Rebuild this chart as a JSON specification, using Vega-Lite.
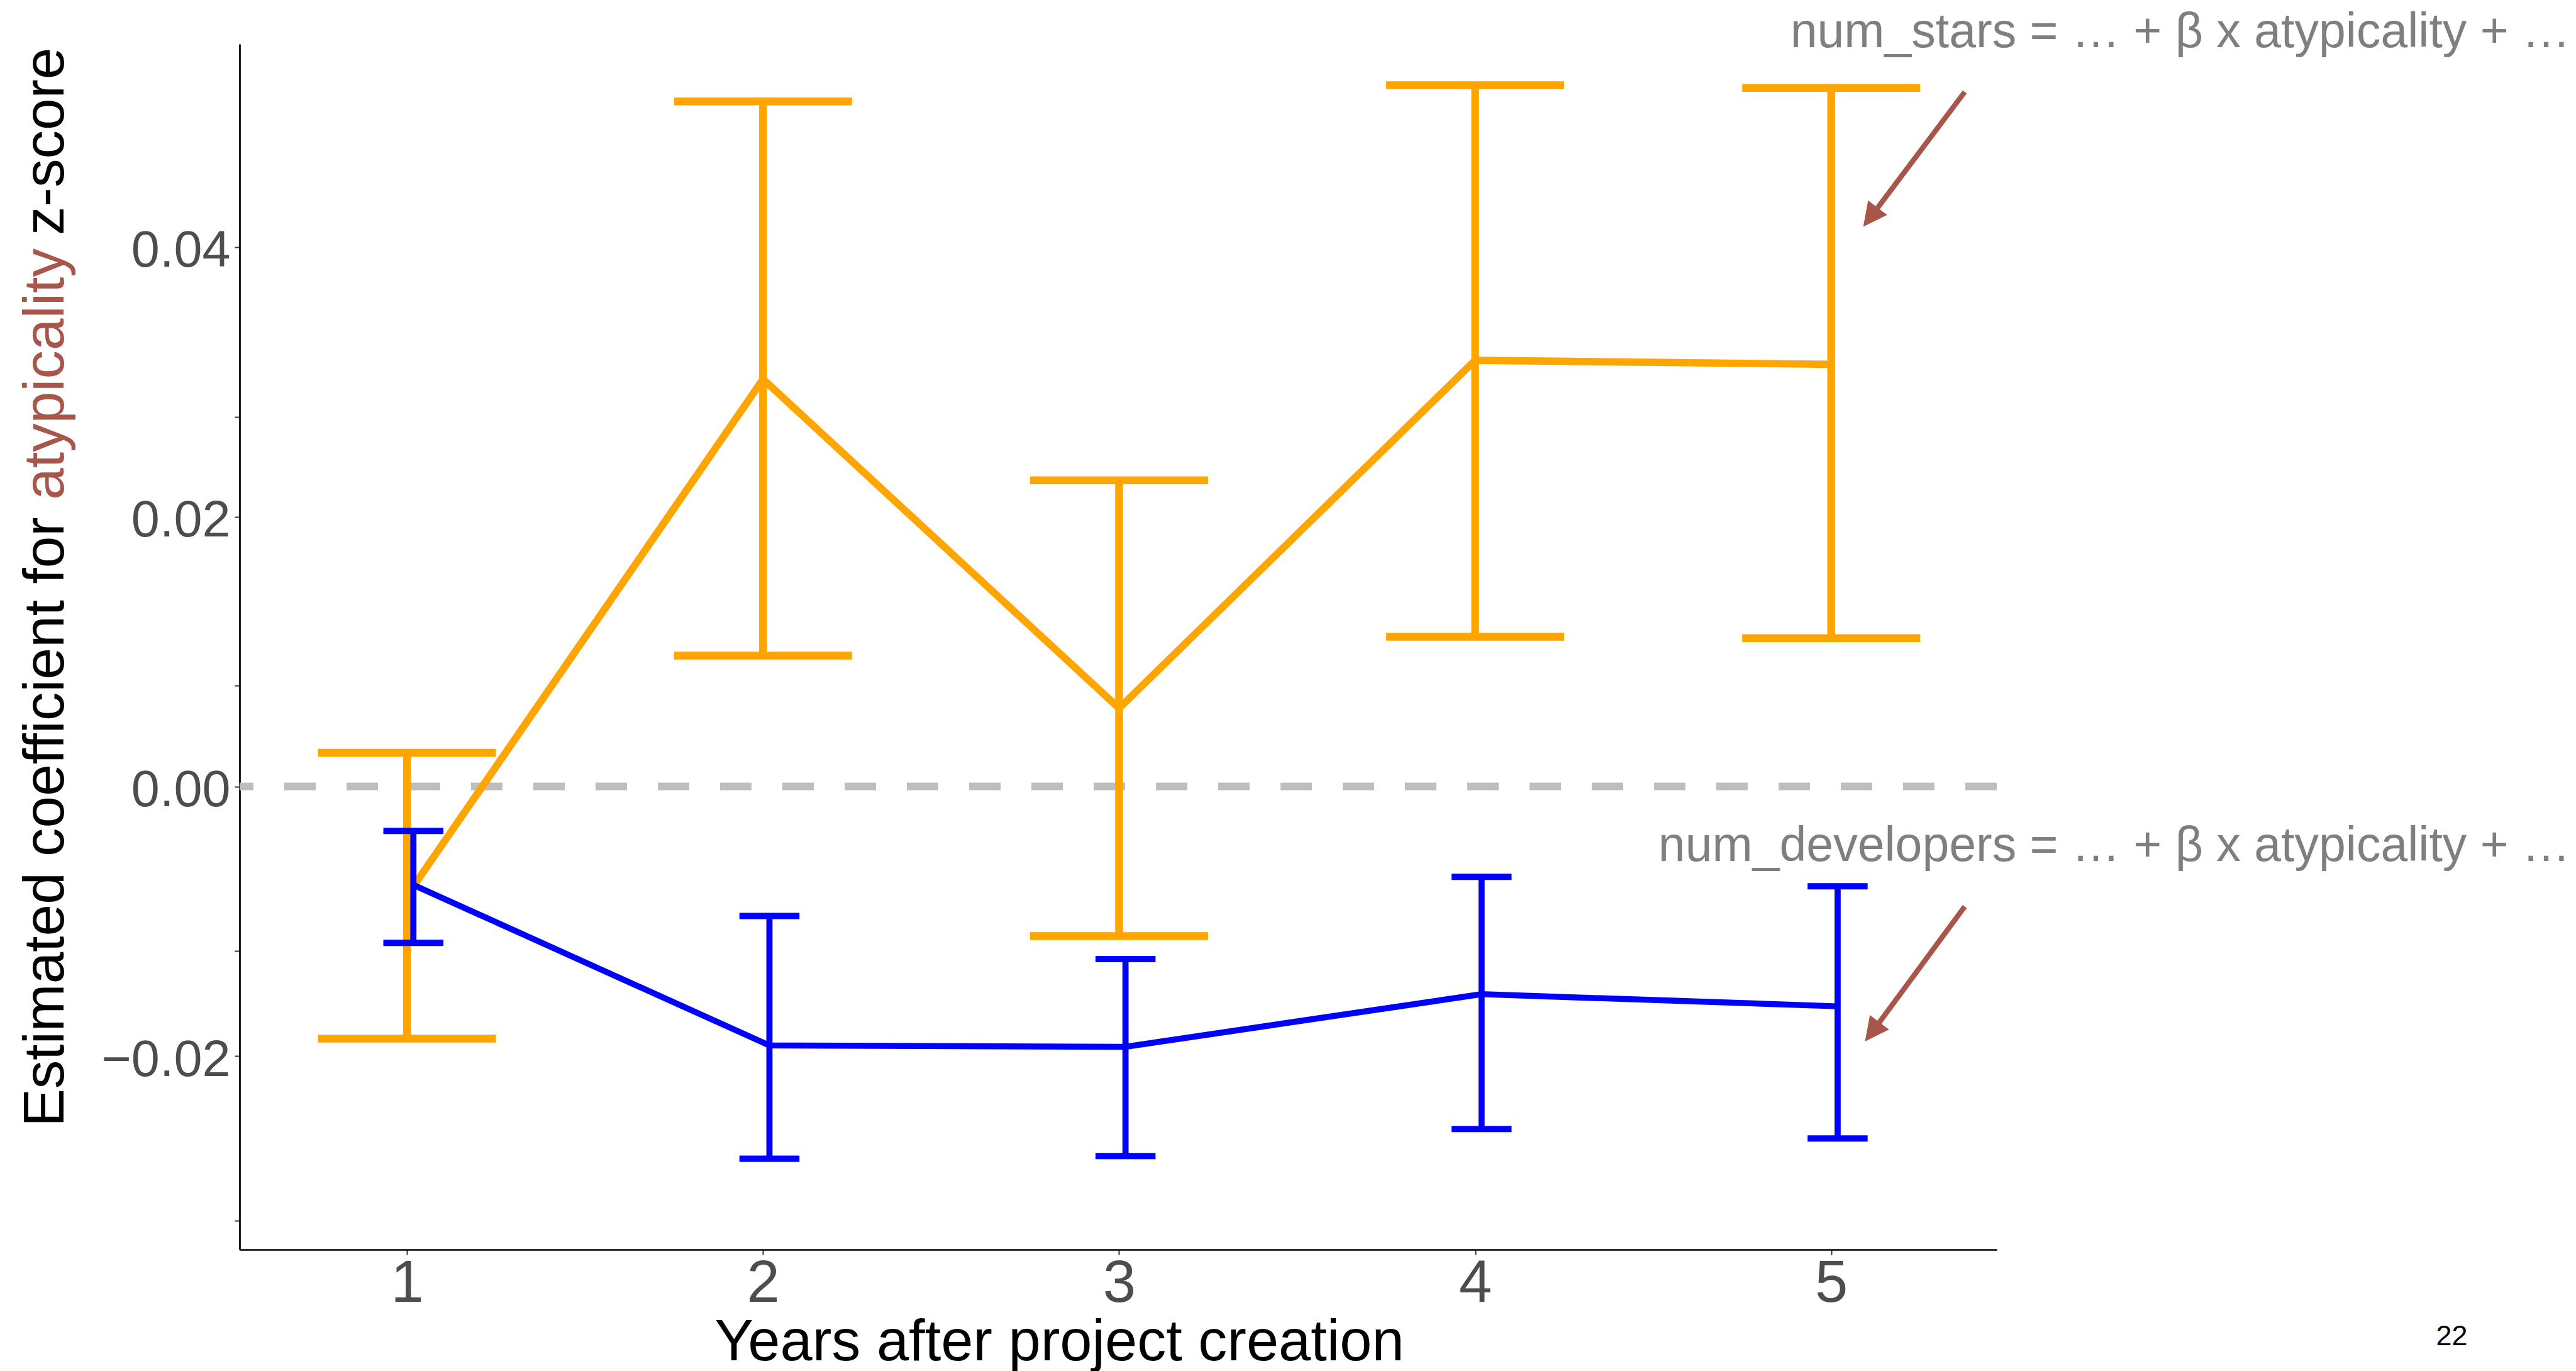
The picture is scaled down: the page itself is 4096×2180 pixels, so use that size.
{
  "$schema": "https://vega.github.io/schema/vega-lite/v6.json",
  "width": 2794,
  "height": 1917,
  "autosize": {"type": "none"},
  "padding": {"left": 381, "top": 70, "right": 921, "bottom": 193},
  "background": "white",
  "config": {"view": {"stroke": null}, "font": "Liberation Sans"},
  "datasets": {
    "stars": [
      {"year": 1, "est": -0.0081, "lo": -0.0187, "hi": 0.0025},
      {"year": 2, "est": 0.0302, "lo": 0.0097, "hi": 0.0508},
      {"year": 3, "est": 0.0058, "lo": -0.0111, "hi": 0.0227},
      {"year": 4, "est": 0.0316, "lo": 0.0111, "hi": 0.0520},
      {"year": 5, "est": 0.0313, "lo": 0.0110, "hi": 0.0518}
    ],
    "devs": [
      {"year": 1.018, "est": -0.0073, "lo": -0.0116, "hi": -0.0033},
      {"year": 2.018, "est": -0.0192, "lo": -0.0276, "hi": -0.0096},
      {"year": 3.018, "est": -0.0193, "lo": -0.0274, "hi": -0.0128},
      {"year": 4.018, "est": -0.0154, "lo": -0.0254, "hi": -0.0067},
      {"year": 5.018, "est": -0.0163, "lo": -0.0261, "hi": -0.0074}
    ],
    "arrows": [
      {"x": 5.375, "y": 0.0515, "x2": 5.116, "y2": 0.0424, "tx": 5.090, "ty": 0.0415},
      {"x": 5.375, "y": -0.0089, "x2": 5.121, "y2": -0.0180, "tx": 5.095, "ty": -0.0189}
    ],
    "zero": [{"y": 0}]
  },
  "layer": [
    {
      "data": {"name": "zero"},
      "mark": {"type": "rule", "strokeDash": [50, 49], "strokeWidth": 12, "color": "#BEBEBE"},
      "encoding": {
        "y": {
          "field": "y",
          "type": "quantitative",
          "scale": {"domain": [-0.03434, 0.05505], "nice": false, "zero": false},
          "axis": {
            "values": [0.04, 0.02, 0, -0.02, 0.0274, 0.0075, -0.0122, -0.0322],
            "labelExpr": "indexof([0.04, 0.02, 0, -0.02], datum.value) >= 0 ? datum.label : ''",
            "format": ".2f",
            "labelFont": "Liberation Sans",
            "labelFontSize": 81,
            "labelColor": "#4D4D4D",
            "labelPadding": 7,
            "labelOffset": 7,
            "labelLimit": 0,
            "labelOverlap": false,
            "labelBound": false,
            "labelFlush": false,
            "tickSize": 8,
            "tickWidth": 2,
            "tickColor": "#333333",
            "domainColor": "#000000",
            "domainWidth": 2.7,
            "grid": false,
            "title": null
          }
        }
      }
    },
    {
      "data": {"name": "stars"},
      "mark": {"type": "line", "color": "#FFA500", "strokeWidth": 11.7},
      "encoding": {
        "x": {
          "field": "year",
          "type": "quantitative",
          "title": "Years after project creation",
          "scale": {"domain": [0.53, 5.465], "nice": false, "zero": false},
          "axis": {
            "values": [1, 2, 3, 4, 5],
            "format": "d",
            "labelFont": "Liberation Sans",
            "labelFontSize": 94,
            "labelColor": "#4D4D4D",
            "labelPadding": 0,
            "labelLimit": 0,
            "tickSize": 8,
            "tickWidth": 2,
            "tickColor": "#333333",
            "domainColor": "#000000",
            "domainWidth": 2.7,
            "grid": false,
            "title": "Years after project creation",
            "titleFont": "Liberation Sans",
            "titleFontSize": 92,
            "titleFontWeight": "normal",
            "titleColor": "#000000",
            "titleLimit": 0,
            "titleX": 1303,
            "titleY": 175,
            "titleAlign": "center",
            "titleBaseline": "alphabetic"
          }
        },
        "y": {"field": "est", "type": "quantitative", "title": null}
      }
    },
    {
      "data": {"name": "stars"},
      "mark": {"type": "rule", "color": "#FFA500", "strokeWidth": 12.4},
      "encoding": {
        "x": {"field": "year", "type": "quantitative"},
        "y": {"field": "lo", "type": "quantitative", "title": null},
        "y2": {"field": "hi"}
      }
    },
    {
      "data": {"name": "stars"},
      "mark": {"type": "tick", "orient": "horizontal", "size": 283, "thickness": 12.5, "color": "#FFA500", "opacity": 1},
      "encoding": {
        "x": {"field": "year", "type": "quantitative"},
        "y": {"field": "hi", "type": "quantitative", "title": null}
      }
    },
    {
      "data": {"name": "stars"},
      "mark": {"type": "tick", "orient": "horizontal", "size": 283, "thickness": 12.5, "color": "#FFA500", "opacity": 1},
      "encoding": {
        "x": {"field": "year", "type": "quantitative"},
        "y": {"field": "lo", "type": "quantitative", "title": null}
      }
    },
    {
      "data": {"name": "devs"},
      "mark": {"type": "line", "color": "#0000FF", "strokeWidth": 9.5},
      "encoding": {
        "x": {"field": "year", "type": "quantitative"},
        "y": {"field": "est", "type": "quantitative", "title": null}
      }
    },
    {
      "data": {"name": "devs"},
      "mark": {"type": "rule", "color": "#0000FF", "strokeWidth": 9.8},
      "encoding": {
        "x": {"field": "year", "type": "quantitative"},
        "y": {"field": "lo", "type": "quantitative", "title": null},
        "y2": {"field": "hi"}
      }
    },
    {
      "data": {"name": "devs"},
      "mark": {"type": "tick", "orient": "horizontal", "size": 95.5, "thickness": 10, "color": "#0000FF", "opacity": 1},
      "encoding": {
        "x": {"field": "year", "type": "quantitative"},
        "y": {"field": "hi", "type": "quantitative", "title": null}
      }
    },
    {
      "data": {"name": "devs"},
      "mark": {"type": "tick", "orient": "horizontal", "size": 95.5, "thickness": 10, "color": "#0000FF", "opacity": 1},
      "encoding": {
        "x": {"field": "year", "type": "quantitative"},
        "y": {"field": "lo", "type": "quantitative", "title": null}
      }
    },
    {
      "data": {"name": "arrows"},
      "mark": {"type": "rule", "color": "#A8554A", "strokeWidth": 8.3},
      "encoding": {
        "x": {"field": "x", "type": "quantitative"},
        "y": {"field": "y", "type": "quantitative", "title": null},
        "x2": {"field": "x2"},
        "y2": {"field": "y2"}
      }
    },
    {
      "data": {"name": "arrows"},
      "mark": {"type": "point", "shape": "M0,0L-0.5,1L0.5,1Z", "size": 5776, "angle": 217, "filled": true, "opacity": 1, "color": "#A8554A", "strokeWidth": 0},
      "encoding": {
        "x": {"field": "tx", "type": "quantitative"},
        "y": {"field": "ty", "type": "quantitative", "title": null}
      }
    },
    {
      "data": {"values": [
        {"label": "num_stars = … + β x atypicality + …", "x": 7.076, "y": 0.0548},
        {"label": "num_developers = … + β x atypicality + …", "x": 7.076, "y": -0.0055}
      ]},
      "mark": {"type": "text", "align": "right", "baseline": "alphabetic", "fontSize": 77, "font": "Liberation Sans", "color": "#7F7F7F"},
      "encoding": {
        "x": {"field": "x", "type": "quantitative"},
        "y": {"field": "y", "type": "quantitative", "title": null},
        "text": {"field": "label"}
      }
    },
    {
      "data": {"values": [
        {"label": "Estimated coefficient for ", "x": 0.0363, "y": -0.02524}
      ]},
      "mark": {"type": "text", "align": "left", "baseline": "alphabetic", "angle": 270, "fontSize": 91, "font": "Liberation Sans", "color": "#000000"},
      "encoding": {
        "x": {"field": "x", "type": "quantitative"},
        "y": {"field": "y", "type": "quantitative", "title": null},
        "text": {"field": "label"}
      }
    },
    {
      "data": {"values": [
        {"label": "atypicality", "x": 0.0363, "y": 0.02126}
      ]},
      "mark": {"type": "text", "align": "left", "baseline": "alphabetic", "angle": 270, "fontSize": 91, "font": "Liberation Sans", "color": "#A8554A"},
      "encoding": {
        "x": {"field": "x", "type": "quantitative"},
        "y": {"field": "y", "type": "quantitative", "title": null},
        "text": {"field": "label"}
      }
    },
    {
      "data": {"values": [
        {"label": "z-score", "x": 0.0363, "y": 0.05479}
      ]},
      "mark": {"type": "text", "align": "right", "baseline": "alphabetic", "angle": 270, "fontSize": 91, "font": "Liberation Sans", "color": "#000000"},
      "encoding": {
        "x": {"field": "x", "type": "quantitative"},
        "y": {"field": "y", "type": "quantitative", "title": null},
        "text": {"field": "label"}
      }
    },
    {
      "data": {"values": [
        {"label": "22", "x": 6.743, "y": -0.04141}
      ]},
      "mark": {"type": "text", "align": "center", "baseline": "alphabetic", "fontSize": 45, "font": "Liberation Sans", "color": "#000000"},
      "encoding": {
        "x": {"field": "x", "type": "quantitative"},
        "y": {"field": "y", "type": "quantitative", "title": null},
        "text": {"field": "label"}
      }
    }
  ]
}
